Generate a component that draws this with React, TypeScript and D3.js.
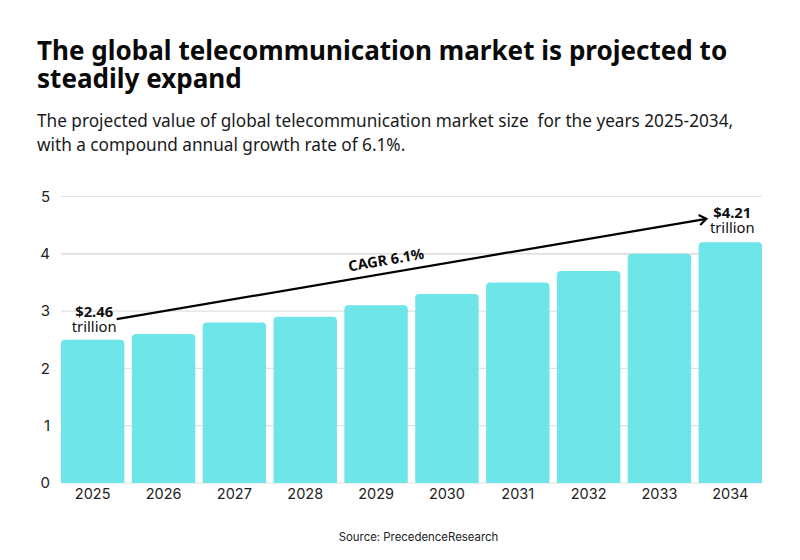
import * as d3 from 'd3';
import { useEffect, useRef } from 'react';

const years = ['2025', '2026', '2027', '2028', '2029', '2030', '2031', '2032', '2033', '2034'];
const marketSize = [2.5, 2.6, 2.8, 2.9, 3.1, 3.3, 3.5, 3.7, 4.0, 4.2];
const yTicks = [0, 1, 2, 3, 4, 5];
const titleLines = ['The global telecommunication market is projected to', 'steadily expand'];
const subtitleLines = [
  'The projected value of global telecommunication market size  for the years 2025-2034,',
  'with a compound annual growth rate of 6.1%.',
];

const FONT = '"Noto Sans", sans-serif';
const AXIS_FONT = 'Inter, sans-serif';

export default function App() {
  const ref = useRef<SVGSVGElement>(null);

  useEffect(() => {
    if (!ref.current) return;
    const svg = d3.select(ref.current);
    svg.selectAll('*').remove();

    const margin = { left: 61, right: 38, top: 196.5, bottom: 77 };
    const width = 800;
    const height = 560;

    const x = d3
      .scaleBand()
      .domain(years)
      .range([margin.left, width - margin.right])
      .paddingInner(0.105)
      .paddingOuter(0);
    const y = d3
      .scaleLinear()
      .domain([0, 5])
      .range([height - margin.bottom, margin.top]);

    // title + subtitle, one text element each with a tspan per line
    const title = svg
      .append('text')
      .attr('font-family', FONT)
      .attr('font-weight', 700)
      .attr('font-size', 26.05)
      .attr('fill', '#0a0a0a');
    title
      .selectAll('tspan')
      .data(titleLines)
      .join('tspan')
      .attr('x', 37)
      .attr('y', (_, i) => 60 + i * 27.5)
      .text((d) => d);

    const subtitle = svg
      .append('text')
      .attr('font-family', FONT)
      .attr('font-size', 17.2)
      .style('white-space', 'pre')
      .attr('fill', '#1a1a1a');
    subtitle
      .selectAll('tspan')
      .data(subtitleLines)
      .join('tspan')
      .attr('x', 37)
      .attr('y', (_, i) => 127 + i * 23.5)
      .text((d) => d);

    // grid
    svg
      .append('g')
      .selectAll('line')
      .data(yTicks)
      .join('line')
      .attr('x1', margin.left)
      .attr('x2', width - margin.right)
      .attr('y1', (d) => y(d))
      .attr('y2', (d) => y(d))
      .attr('stroke', (d) => (d === 4 ? '#d4d4d4' : '#e2e2e2'))
      .attr('stroke-width', 1.2);

    // y axis
    const yAxis = d3.axisLeft(y).tickValues(yTicks).tickFormat(d3.format('d')).tickSize(0).tickPadding(11);
    const gy = svg
      .append('g')
      .attr('transform', `translate(${margin.left},0)`)
      .call(yAxis);
    gy.select('.domain').remove();
    gy.selectAll('text')
      .attr('font-family', AXIS_FONT)
      .attr('font-size', 15)
      .attr('fill', '#222');

    // bars with rounded tops
    const r = 4;
    const bw = x.bandwidth();
    svg
      .append('g')
      .selectAll('path')
      .data(years)
      .join('path')
      .attr('fill', '#6ee5e9')
      .attr('d', (d, i) => {
        const x0 = x(d) ?? 0;
        const top = y(marketSize[i]);
        const p = d3.path();
        p.moveTo(x0, y(0));
        p.lineTo(x0, top + r);
        p.quadraticCurveTo(x0, top, x0 + r, top);
        p.lineTo(x0 + bw - r, top);
        p.quadraticCurveTo(x0 + bw, top, x0 + bw, top + r);
        p.lineTo(x0 + bw, y(0));
        p.closePath();
        return p.toString();
      });

    // x axis
    const xAxis = d3.axisBottom(x).tickSize(0).tickPadding(6);
    const gx = svg
      .append('g')
      .attr('transform', `translate(0,${y(0)})`)
      .call(xAxis);
    gx.select('.domain').remove();
    gx.selectAll('text')
      .attr('font-family', AXIS_FONT)
      .attr('font-size', 14.5)
      .attr('fill', '#222');

    // CAGR arrow
    const first = (x('2025') ?? 0) + bw / 2;
    const last = (x('2034') ?? 0) + bw / 2;
    const ax1 = first + 24;
    const ay1 = y(2.86);
    const ax2 = last - 24;
    const ay2 = y(4.61);
    svg
      .append('line')
      .attr('x1', ax1)
      .attr('y1', ay1)
      .attr('x2', ax2)
      .attr('y2', ay2)
      .attr('stroke', '#000')
      .attr('stroke-width', 2.2);
    const angle = (Math.atan2(ay2 - ay1, ax2 - ax1) * 180) / Math.PI;
    svg
      .append('path')
      .attr('d', 'M-7,-5 L0,0 L-7,5')
      .attr('fill', 'none')
      .attr('stroke', '#000')
      .attr('stroke-width', 2.2)
      .attr('transform', `translate(${ax2},${ay2}) rotate(${angle})`);

    svg
      .append('text')
      .attr('transform', `translate(387,265) rotate(${angle})`)
      .attr('text-anchor', 'middle')
      .attr('font-family', FONT)
      .attr('font-weight', 700)
      .attr('font-size', 14.5)
      .attr('fill', '#0a0a0a')
      .text('CAGR 6.1%');

    // end labels
    const endLabels = [
      { year: '2025', value: '$2.46', yTop: 317, dx: 1.5 },
      { year: '2034', value: '$4.21', yTop: 218, dx: 2 },
    ];
    endLabels.forEach((l) => {
      const cx = (x(l.year) ?? 0) + bw / 2 + l.dx;
      const label = svg
        .append('text')
        .attr('text-anchor', 'middle')
        .attr('font-family', FONT)
        .attr('font-size', 14.8)
        .attr('fill', '#111');
      label
        .append('tspan')
        .attr('x', cx)
        .attr('y', l.yTop)
        .attr('font-weight', 700)
        .text(l.value);
      label
        .append('tspan')
        .attr('x', cx)
        .attr('y', l.yTop + 15)
        .text('trillion');
    });

    // source
    svg
      .append('text')
      .attr('x', 418.5)
      .attr('y', 541)
      .attr('text-anchor', 'middle')
      .attr('font-family', AXIS_FONT)
      .attr('font-size', 11.4)
      .attr('fill', '#222')
      .text('Source: PrecedenceResearch');
  }, []);

  return (
    <svg
      ref={ref}
      width={800}
      height={560}
      style={{ position: 'absolute', left: 0, top: 0, background: '#fff' }}
    />
  );
}
